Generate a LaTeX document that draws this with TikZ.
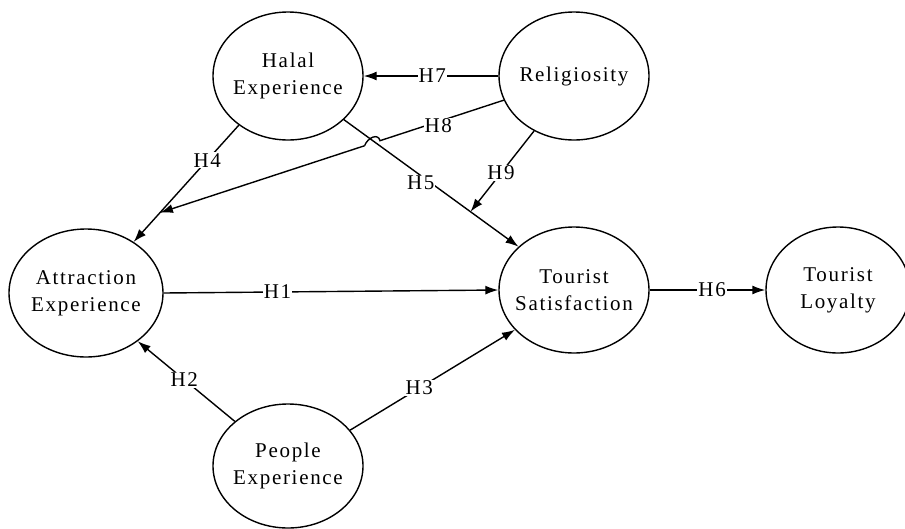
\documentclass[tikz,border=0pt]{standalone}
\usepackage{fontspec}
\setmainfont{Liberation Serif}[LetterSpace=8]
\usetikzlibrary{shapes.geometric,arrows.meta,calc}
\begin{document}
\begin{tikzpicture}[x=1pt,y=-1pt,
  construct/.style={draw,ellipse,line width=1.4pt,inner sep=0pt,
    minimum width=150pt,minimum height=128pt,
    label={[align=center,font=\fontsize{21}{27}\selectfont]center:#1}},
  arr/.style={line width=1.4pt,-{Latex[length=13pt,width=9pt]}},
  hlab/.style={fill=white,inner sep=1pt,font=\fontsize{21}{24}\selectfont}]
\useasboundingbox (0,0) rectangle (905,528);
\node[construct={Halal\\Experience}] (hal) at (288,76) {};
\node[construct={Religiosity}] (rel) at (574,76) {};
\node[construct={Attraction\\Experience},minimum width=154pt] (att) at (86,293) {};
\node[construct={People\\Experience},minimum height=124pt] (peo) at (288,466) {};
\node[construct={Tourist\\Satisfaction},minimum height=126pt] (sat) at (574,290) {};
\node[construct={Tourist\\Loyalty},minimum width=144pt,minimum height=126pt] (loy) at (838,290) {};

% H7
\draw[arr] (rel.west) -- node[hlab,pos=0.49]{H7} (hal.east);
% H5
\draw[arr] (hal.322) -- node[hlab,pos=0.44,yshift=-7pt]{H5} (sat.142);
% H4
\draw[arr] (hal.225) -- node[hlab,pos=0.3]{H4} (att.47);
% H9 to H5 path
\coordinate (h9end) at ($(hal.322)!0.725!(sat.142)$);
\draw[arr] (rel.234) -- node[hlab,pos=0.52]{H9} (h9end);
% H8 to H4 path with hop over H5
\coordinate (h8s) at (rel.199);
\coordinate (h8e) at ($(hal.225)!0.75!(att.47)$);
\coordinate (hopA) at ($(h8s)!0.36!(h8e)$);
\coordinate (hopB) at ($(h8s)!0.405!(h8e)$);
\draw[line width=1.4pt] (h8s) -- node[hlab,pos=0.53,yshift=-4pt]{H8} (hopA)
  .. controls ($(hopA)+(-2,-8)$) and ($(hopB)+(3,-8)$) .. (hopB);
\draw[arr] (hopB) -- (h8e);
% H1
\draw[arr] (att.east) -- node[hlab,pos=0.34]{H1} (sat.west);
% H2
\draw[arr] (peo.140) -- node[hlab,pos=0.52]{H2} (att.317);
% H3
\draw[arr] (peo.30) -- node[hlab,pos=0.42]{H3} (sat.214);
% H6
\draw[arr] (sat.east) -- node[hlab,pos=0.54]{H6} (loy.west);
\end{tikzpicture}
\end{document}
